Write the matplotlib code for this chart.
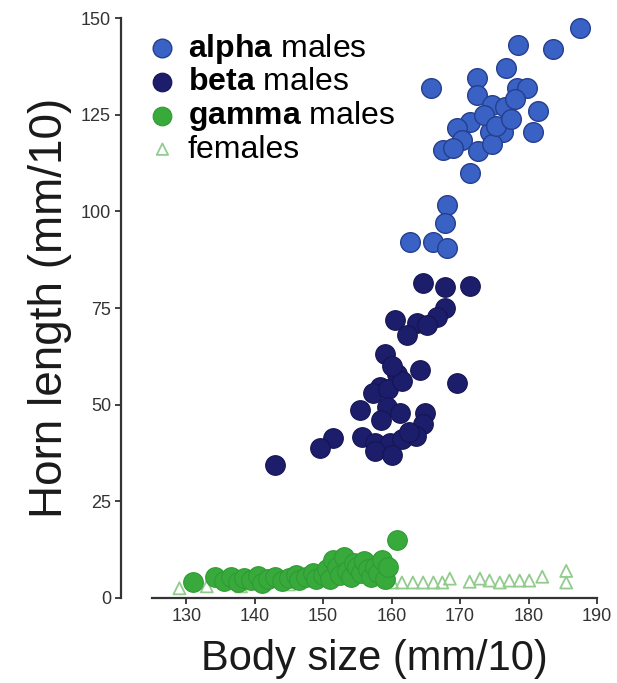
import numpy as np
import matplotlib
matplotlib.use('Agg')
from matplotlib import pyplot as plt

plt.rcParams['font.family'] = ['Liberation Sans', 'DejaVu Sans']
plt.rcParams['mathtext.fontset'] = 'custom'
plt.rcParams['mathtext.rm'] = 'Liberation Sans'
plt.rcParams['mathtext.bf'] = 'Liberation Sans:bold'

# body size / horn length (mm/10)
alpha_x = [187.5, 178.5, 183.6, 176.7, 165.8, 172.5, 172.5, 178.3, 179.8, 174.7, 176.6, 178.0,
           181.4, 171.5, 169.6, 174.4, 176.3, 180.7, 167.5, 170.3, 172.6, 174.7, 171.5, 173.5,
           175.2, 169.0, 177.4, 168.1, 167.8, 162.7, 166.0, 168.1]
alpha_y = [147.4, 143.0, 142.0, 137.0, 132.0, 134.5, 130.0, 132.0, 132.0, 127.5, 127.0, 129.0,
           126.0, 123.0, 121.5, 120.5, 120.5, 120.5, 116.0, 118.5, 115.5, 117.5, 110.0, 125.0,
           122.0, 116.5, 124.0, 101.6, 97.0, 92.0, 92.0, 90.5]

beta_x = [164.6, 167.8, 171.5, 167.8, 166.6, 160.5, 163.7, 165.2, 162.3, 159.0, 164.2, 160.8,
          169.6, 158.3, 157.3, 159.5, 161.5, 155.4, 159.3, 161.2, 164.9, 164.6, 151.5, 149.6,
          155.7, 157.6, 159.8, 161.5, 163.5, 143.0, 157.5, 160.0, 162.5, 158.5, 160.0]
beta_y = [81.5, 80.5, 80.7, 75.0, 72.7, 72.0, 71.0, 70.6, 68.0, 63.0, 59.0, 58.0,
          55.6, 54.6, 53.0, 54.0, 56.0, 48.6, 49.4, 47.8, 47.8, 45.0, 41.4, 38.8,
          41.6, 40.0, 40.0, 41.0, 42.0, 34.5, 38.0, 37.0, 43.0, 46.0, 60.0]

gamma_x = [131.0, 134.2, 135.5, 136.5, 137.5, 138.5, 139.5, 140.5, 141.0, 142.0, 143.0, 144.0,
           145.0, 146.0, 146.5, 147.5, 148.5, 149.0, 150.0, 150.5, 151.0, 151.5, 152.0, 152.5,
           153.0, 153.5, 154.0, 154.5, 155.0, 155.5, 156.0, 156.5, 157.0, 157.5, 158.0, 158.6,
           159.0, 159.5, 160.8]
gamma_y = [4.1, 5.4, 4.5, 5.5, 4.2, 5.2, 4.6, 5.8, 4.0, 5.0, 5.5, 4.3,
           5.2, 6.0, 4.6, 5.5, 6.5, 4.8, 6.0, 7.5, 5.0, 9.8, 8.0, 6.0,
           10.6, 7.0, 5.5, 9.0, 8.0, 6.5, 9.5, 7.5, 5.5, 8.0, 6.5, 9.8,
           5.0, 8.0, 15.0]

female_x = [129.0, 133.0, 138.0, 145.0, 160.1, 161.5, 163.1, 164.6, 166.1, 167.4, 168.5, 171.4,
            172.9, 174.3, 175.8, 177.2, 178.7, 180.1, 182.0, 185.5, 185.5]
female_y = [2.5, 3.0, 3.0, 3.5, 4.0, 4.0, 4.0, 4.0, 4.0, 4.0, 5.0, 4.2,
            5.0, 4.5, 4.0, 4.5, 4.5, 4.5, 5.5, 4.0, 7.0]

fig = plt.figure(figsize=(6.17, 6.83), dpi=100)
ax = fig.add_axes([0.2464, 0.1245, 0.7212, 0.849])

ax.scatter(female_x, female_y, marker='^', s=75, facecolors='none', edgecolors='#93cb8e',
           linewidths=1.3, zorder=2, label='females')
ax.scatter(gamma_x, gamma_y, s=200, color='#38aa3c', edgecolors='#2f9a34', linewidths=0.8,
           zorder=3, label=r'$\bf{gamma}$ males')
ax.scatter(beta_x, beta_y, s=200, color='#1c1d6b', edgecolors='#141552', linewidths=0.8,
           zorder=3, label=r'$\bf{beta}$ males')
ax.scatter(alpha_x, alpha_y, s=200, color='#3a62c4', edgecolors='#253f8f', linewidths=1.0,
           zorder=3, label=r'$\bf{alpha}$ males')

h, l = ax.get_legend_handles_labels()
order = [3, 2, 1, 0]
ax.legend([h[i] for i in order], [l[i] for i in order], loc='upper left',
          bbox_to_anchor=(-0.07, 1.015), frameon=False, fontsize=23, labelspacing=0.05,
          handletextpad=0.2, handlelength=1.2, borderpad=0.2, markerscale=0.95)

ax.set_xlim(125, 190)
ax.set_ylim(0, 150)
ax.set_xticks([130, 140, 150, 160, 170, 180, 190])
ax.set_yticks([0, 25, 50, 75, 100, 125, 150])

for s in ['top', 'right']:
    ax.spines[s].set_visible(False)
ax.spines['left'].set_position(('outward', 22))
for s in ['left', 'bottom']:
    ax.spines[s].set_linewidth(1.6)
    ax.spines[s].set_color('#333333')
ax.tick_params(length=4, width=1.3, color='#333333', labelsize=13, labelcolor='#333333')

ax.set_xlabel('Body size (mm/10)', fontsize=30, color='#1a1a1a', labelpad=10)
ax.set_ylabel('Horn length (mm/10)', fontsize=33, color='#1a1a1a', labelpad=6)

for a in ax.collections:
    a.set_clip_on(False)

fig.savefig('out.png', dpi=100)
